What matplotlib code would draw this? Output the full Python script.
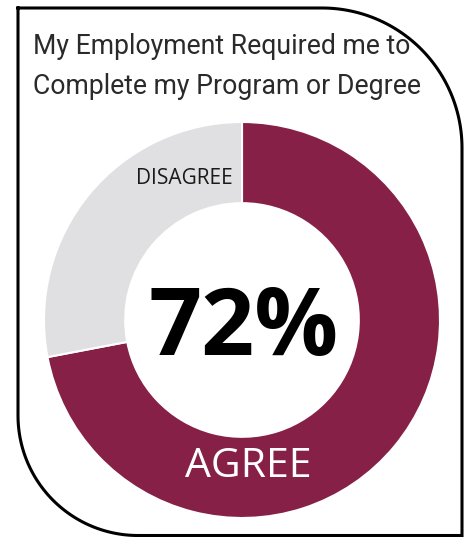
import numpy as np
import matplotlib.pyplot as plt

# data
labels = ['AGREE', 'DISAGREE']
values = [72, 28]
colors = ['#862047', '#E0E0E2']
title_lines = ['My Employment Required me to', 'Complete my Program or Degree']

W, H = 468, 537
fig = plt.figure(figsize=(W / 100, H / 100), dpi=100)
ax = fig.add_axes([0, 0, 1, 1])

# donut (coordinates in pixels, y measured from bottom)
cx, cy, r = 242, H - 320, 198
ax.pie(values, colors=colors, startangle=90, counterclock=False,
       center=(cx, cy), radius=r,
       wedgeprops=dict(width=r * 0.41, edgecolor='white', linewidth=1.5))

ax.text(cx + 2, cy - 10, f'{values[0]}%', ha='center', va='center',
        fontsize=67, fontweight='bold', family='Open Sans', color='black')
ax.text(248, H - 467, labels[0], ha='center', va='center',
        fontsize=29.5, family='Open Sans', color='white')
ax.text(184, H - 179, labels[1], ha='center', va='center',
        fontsize=15, family='Open Sans', color='#1a1a1a')

for i, line in enumerate(title_lines):
    ax.text(33, H - 47 - 40 * i, line, ha='left', va='center',
            fontsize=19.2, family='Roboto', color='#2a2a2a')

# border with two rounded corners
left, right, top, bottom = 18, 462, H - 8, H - 535.5
r_tr, r_bl = 140, 120
t1 = np.linspace(np.pi / 2, 0, 60)
t2 = np.linspace(3 * np.pi / 2, np.pi, 60)
bx = np.concatenate([[left], right - r_tr + r_tr * np.cos(t1), [right],
                     left + r_bl + r_bl * np.cos(t2), [left]])
by = np.concatenate([[top], top - r_tr + r_tr * np.sin(t1), [bottom],
                     bottom + r_bl + r_bl * np.sin(t2), [top]])
ax.plot(bx, by, color='black', linewidth=2.2, solid_joinstyle='miter')

ax.set_xlim(0, W)
ax.set_ylim(0, H)
ax.set_aspect('equal')
ax.axis('off')

fig.savefig('out.png', dpi=100)
